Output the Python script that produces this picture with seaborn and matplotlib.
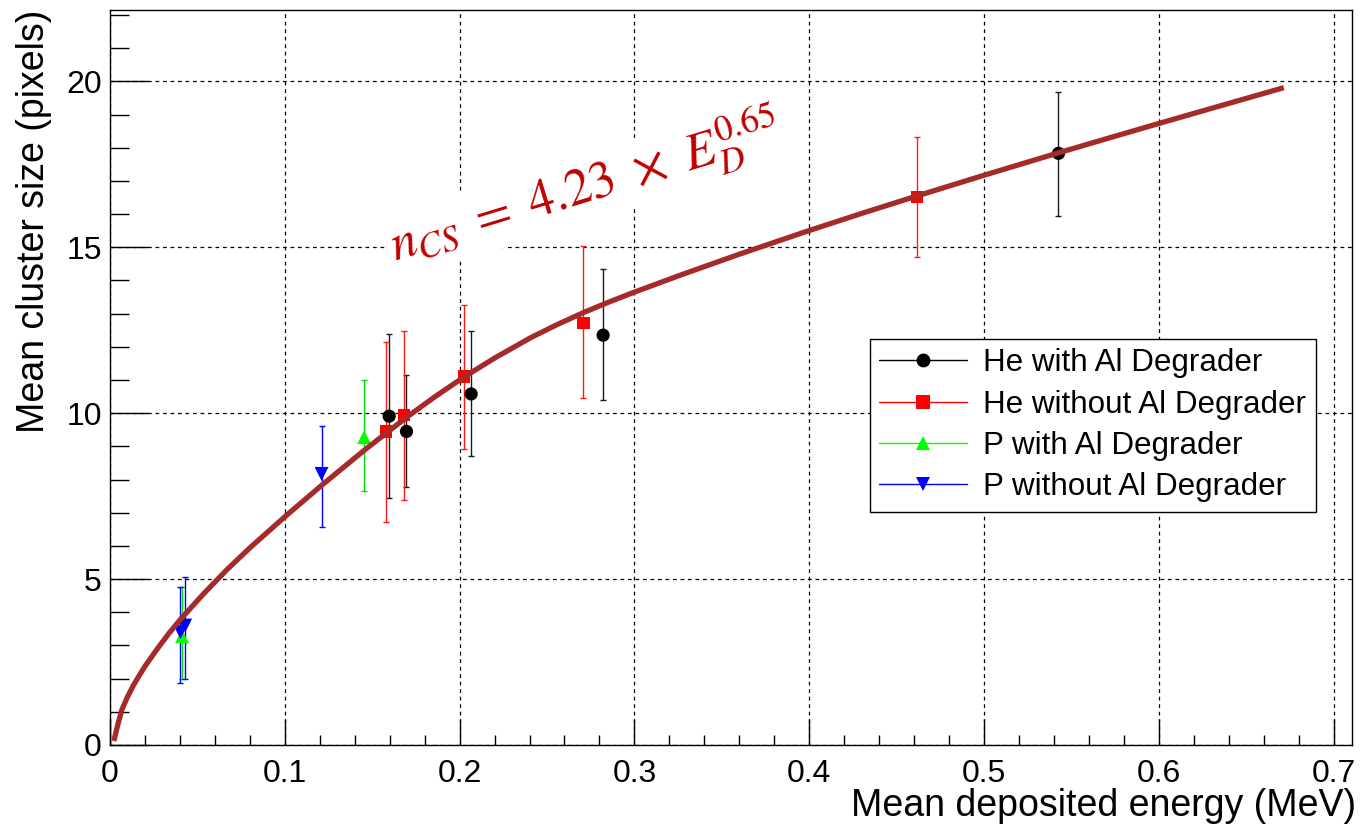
import numpy as np
import pandas as pd
import matplotlib
matplotlib.use("Agg")
import matplotlib.pyplot as plt
from matplotlib.lines import Line2D
from matplotlib.ticker import MultipleLocator
import seaborn as sns

# ---------------- data ----------------
he_al_x = [0.1597, 0.1696, 0.2066, 0.2821, 0.5426]
he_al_y = [9.91, 9.45, 10.58, 12.35, 17.83]
he_al_lo = [7.44, 7.77, 8.71, 10.40, 15.94]
he_al_hi = [12.38, 11.15, 12.47, 14.33, 19.69]

he_noal_x = [0.1580, 0.1681, 0.2026, 0.2708, 0.4616]
he_noal_y = [9.45, 9.95, 11.11, 12.72, 16.52]
he_noal_lo = [6.73, 7.39, 8.92, 10.45, 14.71]
he_noal_hi = [12.13, 12.48, 13.26, 15.04, 18.33]

p_al_x = [0.0412, 0.1454]
p_al_y = [3.28, 9.28]
p_al_lo = [2.00, 7.64]
p_al_hi = [4.75, 10.99]

p_noal_x = [0.0403, 0.0430, 0.1210]
p_noal_y = [3.40, 3.60, 8.17]
p_noal_lo = [1.86, 2.00, 6.56]
p_noal_hi = [4.75, 5.07, 9.62]

# fitted curve
fit_x = [0.0022, 0.0045, 0.0067, 0.0100, 0.0134, 0.0168, 0.0201, 0.0268,
         0.0335, 0.0402, 0.0536, 0.0670, 0.0804, 0.1005, 0.1214, 0.1454,
         0.1700, 0.1860, 0.2025, 0.2200, 0.2405, 0.2550, 0.2712, 0.2850,
         0.2996, 0.3263, 0.3600, 0.3986, 0.4300, 0.4619, 0.5000, 0.5422,
         0.5700, 0.5987, 0.6350, 0.6715]
fit_y = [0.12, 0.62, 1.05, 1.45, 1.80, 2.10, 2.38, 2.88,
         3.35, 3.78, 4.56, 5.29, 5.96, 6.90, 7.84, 8.88,
         9.89, 10.50, 11.09, 11.66, 12.27, 12.65, 13.04, 13.34,
         13.64, 14.16, 14.79, 15.48, 16.02, 16.55, 17.17, 17.84,
         18.27, 18.71, 19.26, 19.81]

labels = ["He with Al Degrader", "He without Al Degrader",
          "P with Al Degrader", "P without Al Degrader"]
x_ticks = [0, 0.1, 0.2, 0.3, 0.4, 0.5, 0.6, 0.7]
x_tick_labels = ["0", "0.1", "0.2", "0.3", "0.4", "0.5", "0.6", "0.7"]
y_ticks = [0, 5, 10, 15, 20]

# ---------------- style ----------------
sns.set_theme(style="ticks")
plt.rcParams['font.family'] = ['Liberation Sans', 'DejaVu Sans']
plt.rcParams['mathtext.fontset'] = 'stix'

W, H = 1361, 832
fig = plt.figure(figsize=(W / 100, H / 100), dpi=100)
ax = fig.add_axes([110 / W, 1 - 745 / H, (1352 - 110) / W, (745 - 10) / H])

series = [
    (he_al_x, he_al_y, he_al_lo, he_al_hi, "#000000", "#1a1a1a", "o", 9.5),
    (he_noal_x, he_noal_y, he_noal_lo, he_noal_hi, "#ff0000", "#ff1a1a", "s", 9),
    (p_al_x, p_al_y, p_al_lo, p_al_hi, "#00ff00", "#00e000", "^", 10),
    (p_noal_x, p_noal_y, p_noal_lo, p_noal_hi, "#0000ff", "#0000ff", "v", 10),
]

handles = []
for (xs, ys, lo, hi, col, ecol, mk, ms), lab in zip(series, labels):
    xs = np.array(xs); ys = np.array(ys); lo = np.array(lo); hi = np.array(hi)
    ax.errorbar(xs, ys, yerr=[ys - lo, hi - ys], fmt='none', ecolor=ecol,
                elinewidth=1.0, capsize=2.5, capthick=1.0, zorder=3)
    df = pd.DataFrame({"x": xs, "y": ys})
    sns.scatterplot(data=df, x="x", y="y", marker=mk, s=ms ** 2, color=col,
                    edgecolor="none", linewidth=0, ax=ax, zorder=4, legend=False)
    handles.append(Line2D([0], [0], color=col, lw=1.0, marker=mk,
                          markersize=ms * 1.05, markeredgewidth=0, label=lab))

fit_df = pd.DataFrame({"x": fit_x, "y": fit_y})
sns.lineplot(data=fit_df, x="x", y="y", color="#a52a2a", linewidth=3.8,
             sort=False, estimator=None, ax=ax, zorder=6,
             solid_capstyle="butt", solid_joinstyle="round")

# ---------------- axes ----------------
ax.set_xlim(0, 0.7105)
ax.set_ylim(0, 22.15)
ax.set_xticks(x_ticks)
ax.set_xticklabels(x_tick_labels)
ax.set_yticks(y_ticks)
ax.xaxis.set_minor_locator(MultipleLocator(0.02))
ax.yaxis.set_minor_locator(MultipleLocator(1))

ax.tick_params(axis='x', which='major', direction='in', length=19, width=1,
               pad=10, labelsize=23, top=False, color='black')
ax.tick_params(axis='x', which='minor', direction='in', length=7, width=1,
               top=False, color='black')
ax.tick_params(axis='y', which='major', direction='in', length=27, width=1,
               pad=6, labelsize=23, right=False, color='black')
ax.tick_params(axis='y', which='minor', direction='in', length=13.5, width=1,
               right=False, color='black')
for lab in ax.get_xticklabels() + ax.get_yticklabels():
    lab.set_color('black')

ax.grid(True, which='major', color='black', linestyle=(0, (3, 3)),
        linewidth=0.9)
for sp in ax.spines.values():
    sp.set_visible(True)
    sp.set_color('black')
    sp.set_linewidth(1.0)

ax.set_xlabel("Mean deposited energy (MeV)", fontsize=27, loc='right',
              color='black')
ax.xaxis.set_label_coords(1.003, -0.059)
ax.set_ylabel("Mean cluster size (pixels)", fontsize=27, loc='top',
              color='black', labelpad=10)

# ---------------- fit annotation ----------------
ax.text(0.1630, 14.55, r"$n_{CS}\ =\ 4.23\ \times\ E_{D}^{0.65}$",
        color="#c00000", fontsize=37, rotation=17, rotation_mode='anchor',
        ha='left', va='baseline', zorder=5,
        bbox=dict(facecolor='white', edgecolor='none', pad=2))

# ---------------- legend ----------------
leg = ax.legend(handles=handles, loc='upper left',
                bbox_to_anchor=((870 - 110) / 1242, (745 - 339) / 735),
                fontsize=22.6, frameon=True, fancybox=False, framealpha=1,
                edgecolor='black', borderpad=0.3, handlelength=2.8,
                handletextpad=0.51, labelspacing=0.36, borderaxespad=0)
leg.get_frame().set_linewidth(1.0)
for t in leg.get_texts():
    t.set_color('black')

fig.savefig("out.png", dpi=100, facecolor='white')
